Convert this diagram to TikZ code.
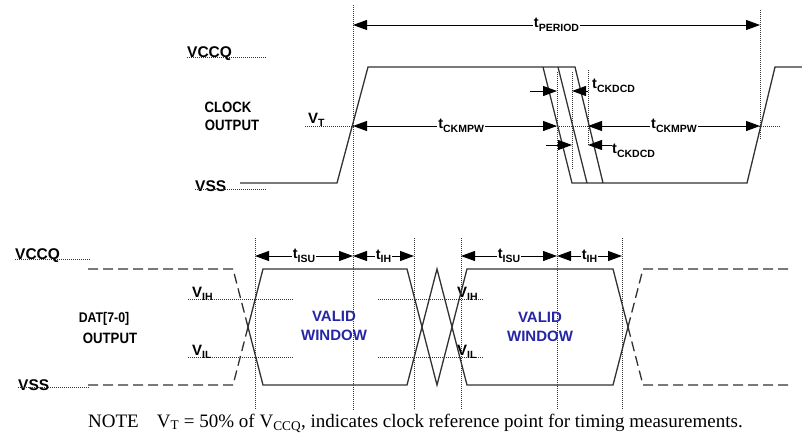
\documentclass[tikz,border=0pt]{standalone}
\usepackage{fontspec}
\setmainfont{Liberation Serif}
\setsansfont{Liberation Sans}
\newfontfamily\narrowsans[FakeStretch=0.88]{Liberation Sans}
\usetikzlibrary{arrows.meta,calc,positioning}
\definecolor{wave}{RGB}{50,50,50}
\definecolor{validblue}{RGB}{38,38,165}
\tikzset{sig/.style={line width=1.3pt, wave},
  inval/.style={sig, dash pattern=on 10pt off 5pt},
  refl/.style={line width=0.9pt, dash pattern=on 1pt off 1pt, black!80},
  dim/.style={{Triangle[length=14pt,width=10pt]}-{Triangle[length=14pt,width=10pt]}, line width=1pt},
  half/.style={-{Triangle[length=14pt,width=10pt]}, line width=1pt},
  lvl/.style={font=\sffamily\bfseries\fontsize{15.5}{15.5}\selectfont, inner sep=0pt},
  sig name/.style={font=\narrowsans\bfseries\fontsize{15}{15}\selectfont, inner sep=0pt},
  tlab/.style={font=\sffamily\bfseries\fontsize{14.5}{14.5}\selectfont, fill=white, inner sep=1pt},
  valid/.style={font=\sffamily\bfseries\fontsize{15}{19}\selectfont, text=validblue, align=center, inner sep=0pt}}
\newcommand{\tsub}[2]{#1\raisebox{-0.45ex}{\fontsize{10.5}{10.5}\selectfont #2}}

\begin{document}
\begin{tikzpicture}[x=1pt, y=-1pt]
  \useasboundingbox[fill=white] (0,0) rectangle (802,437);
  % vertical reference lines
  \coordinate (a top) at (255,238); \coordinate (a bot) at (255,410);
  \coordinate (b top) at (353,5);   \coordinate (b bot) at (353,410);
  \coordinate (c top) at (414,238); \coordinate (c bot) at (414,410);
  \coordinate (d top) at (461,238); \coordinate (d bot) at (461,410);
  \coordinate (e top) at (557,72);  \coordinate (e bot) at (557,410);
  \coordinate (f top) at (572,72);  \coordinate (f bot) at (572,170);
  \coordinate (g top) at (588,70);  \coordinate (g bot) at (588,145);
  \coordinate (h top) at (760,10);  \coordinate (h bot) at (760,140);
  \coordinate (k top) at (622,238); \coordinate (k bot) at (622,410);
  \foreach \nm in {a,b,c,d,e,f,g,h,k}{\draw[refl] (\nm\space top) -- (\nm\space bot);}
  % clock
  \node[lvl, anchor=base west] (vccq1) at (187,57) {VCCQ};
  \draw[refl] (vccq1.south west) ++(0,-3) -- ++(80,0);
  \node[lvl, anchor=base west] (vss1) at (195,191) {VSS};
  \draw[refl] (vss1.south west) ++(0,-2) -- ++(72,0);
  \node[sig name] (clk) at (228,107) {CLOCK};
  \node[sig name] (clkout) at (232,125) {OUTPUT};
  \node[lvl, anchor=base west, font=\sffamily\bfseries\fontsize{15}{15}\selectfont] (vt) at (308,123) {\tsub{V}{T}};
  \coordinate (vtl) at (305,126);
  \draw[refl] (vtl) -- (780,126);
  \draw[sig] (240,183) -- (337,183) -- (368,67) -- (575,67) -- (603,183);
  \draw[sig] (543,67) -- (572,183) -- (747,183) -- (775,67) -- (802,67);
  \draw[sig] (558,67) -- (587,183);
  % timing arrows, clock
  \coordinate (yper) at (0,25);
  \draw[dim] (b top |- yper) -- node[tlab]{\tsub{t}{PERIOD}} (h top |- yper);
  \draw[dim] (b top |- vtl) -- node[tlab, pos=0.53]{\tsub{t}{CKMPW}} (e top |- vtl);
  \draw[dim] (g top |- vtl) -- node[tlab]{\tsub{t}{CKMPW}} (h top |- vtl);
  \coordinate (ydcd1) at (530,91);
  \coordinate (ydcd2) at (546,145);
  \coordinate (rdcd2) at (612,145);
  \draw[half] (ydcd1) -- (e top |- ydcd1);
  \draw[half] (g top |- ydcd1) -- (f top |- ydcd1);
  \node[tlab, fill=none, anchor=west] (dcd1) at (591,86) {\tsub{t}{CKDCD}};
  \draw[half] (ydcd2) -- (f top |- ydcd2);
  \draw[half] (rdcd2) -- (g top |- ydcd2);
  \node[tlab, fill=none, anchor=west] (dcd2) at (611,151) {\tsub{t}{CKDCD}};
  % data
  \node[lvl, anchor=base west] (vccq2) at (15,259) {VCCQ};
  \draw[refl] (vccq2.south west) ++(0,-3) -- ++(75,0);
  \node[lvl, anchor=base west] (vss2) at (18,390) {VSS};
  \draw[refl] (vss2.south west) ++(0,-3) -- ++(72,0);
  \node[sig name, font=\narrowsans\bfseries\fontsize{14}{14}\selectfont] (dat) at (104,319) {DAT[7-0]};
  \node[sig name] (datout) at (110,338) {OUTPUT};
  \draw[refl] (188,299) -- (293,299);
  \draw[refl] (378,299) -- (484,299);
  \draw[refl] (188,357) -- (293,357);
  \draw[refl] (378,357) -- (484,357);
  \node[lvl, anchor=base west, font=\sffamily\bfseries\fontsize{15}{15}\selectfont] (vih1) at (192,297) {\tsub{V}{IH}};
  \node[lvl, anchor=base west, font=\sffamily\bfseries\fontsize{15}{15}\selectfont] (vil1) at (192,355) {\tsub{V}{IL}};
  \node[lvl, anchor=base west, font=\sffamily\bfseries\fontsize{15}{15}\selectfont] (vih2) at (457,297) {\tsub{V}{IH}};
  \node[lvl, anchor=base west, font=\sffamily\bfseries\fontsize{15}{15}\selectfont] (vil2) at (457,355) {\tsub{V}{IL}};
  \draw[inval] (88,269) -- (233,269) -- (248,327);
  \draw[inval] (88,385) -- (233,385) -- (248,327);
  \draw[sig] (248,327) -- (263,269) -- (407,269) -- (437,385) -- (467,269) -- (613,269) -- (628,327);
  \draw[sig] (248,327) -- (263,385) -- (407,385) -- (437,269) -- (467,385) -- (613,385) -- (628,327);
  \draw[inval] (628,327) -- (643,385) -- (790,385);
  \draw[inval] (628,327) -- (643,269) -- (790,269);
  \node[valid] (win1) at (334,326) {VALID\\WINDOW};
  \node[valid] (win2) at (540,327) {VALID\\WINDOW};
  % timing arrows, data
  \coordinate (ysu) at (0,256);
  \draw[dim] (a top |- ysu) -- node[tlab]{\tsub{t}{ISU}} (b top |- ysu);
  \draw[dim] (b top |- ysu) -- node[tlab]{\tsub{t}{IH}} (c top |- ysu);
  \draw[dim] (d top |- ysu) -- node[tlab]{\tsub{t}{ISU}} (e top |- ysu);
  \draw[dim] (e top |- ysu) -- node[tlab]{\tsub{t}{IH}} (k top |- ysu);
  % note
  \node[anchor=west, inner sep=0pt, font=\fontsize{19}{19}\selectfont] (note) at (88,423)
    {NOTE\hspace{18pt}V\textsubscript{T} = 50\% of V\textsubscript{CCQ}, indicates clock reference point for timing measurements.};
\end{tikzpicture}
\end{document}
